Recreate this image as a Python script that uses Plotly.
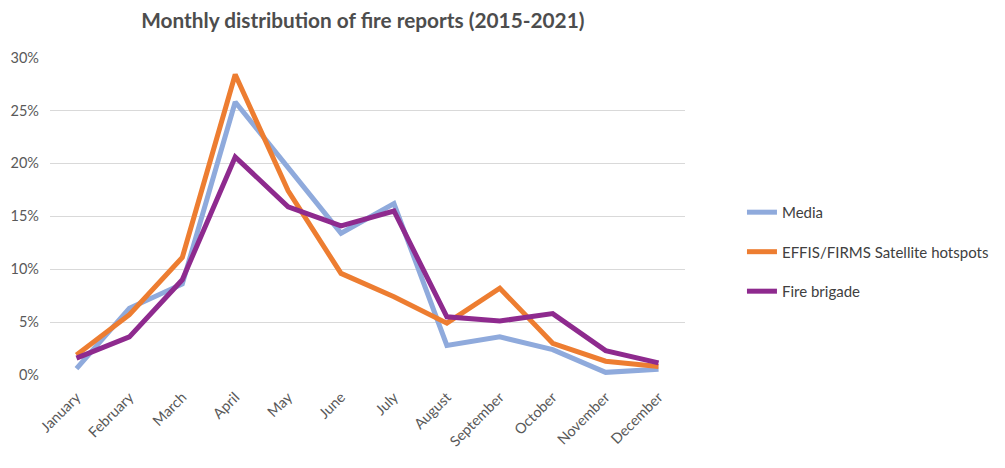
import plotly.graph_objects as go

# Monthly share of fire reports by source, 2015-2021 (percent)
months = ["January", "February", "March", "April", "May", "June",
          "July", "August", "September", "October", "November", "December"]
media = [0.6, 6.3, 8.6, 25.8, 19.6, 13.4, 16.2, 2.8, 3.6, 2.4, 0.25, 0.55]
effis_firms = [1.9, 5.7, 11.1, 28.4, 17.4, 9.6, 7.4, 4.9, 8.2, 3.0, 1.3, 0.8]
fire_brigade = [1.6, 3.6, 9.0, 20.6, 15.9, 14.1, 15.5, 5.5, 5.1, 5.8, 2.3, 1.15]

series = [
    ("Media", media, "#8FAADC"),
    ("EFFIS/FIRMS Satellite hotspots", effis_firms, "#ED7D31"),
    ("Fire brigade", fire_brigade, "#8E2A8E"),
]

font_family = "Lato, 'Open Sans', sans-serif"

fig = go.Figure()
for name, values, color in series:
    fig.add_trace(go.Scatter(
        x=months, y=values, name=name, mode="lines", legendgroup=name,
        line=dict(color=color, width=5),
    ))

fig.update_layout(
    width=1005, height=468,
    margin=dict(l=50, r=319, t=57, b=93),
    plot_bgcolor="white", paper_bgcolor="white",
    font=dict(family=font_family, color="#595959", size=13),
    title=dict(
        text="<b>Monthly distribution of fire reports (2015-2021)</b>",
        x=0.361, xanchor="center", y=0.955, yanchor="middle",
        font=dict(size=20.8, color="#4D4D4D", family=font_family),
    ),
    legend=dict(
        x=1.088, xanchor="left", y=0.387, yanchor="middle",
        font=dict(size=15, color="#404040"),
        tracegroupgap=17, itemwidth=30,
    ),
    showlegend=True,
)
fig.update_xaxes(
    range=[-0.5, 11.5],
    tickangle=-45, showgrid=False, showline=False, zeroline=False,
    ticks="", ticklabelstandoff=10,
    tickfont=dict(size=14.5, color="#595959"),
)
fig.update_yaxes(
    range=[0, 30.05], dtick=5, ticksuffix="%",
    showgrid=True, gridcolor="#D9D9D9", gridwidth=1,
    zeroline=False, showline=False, ticks="", ticklabelstandoff=10,
    tickfont=dict(size=14.5, color="#595959"),
)

fig.write_html("out.html")
